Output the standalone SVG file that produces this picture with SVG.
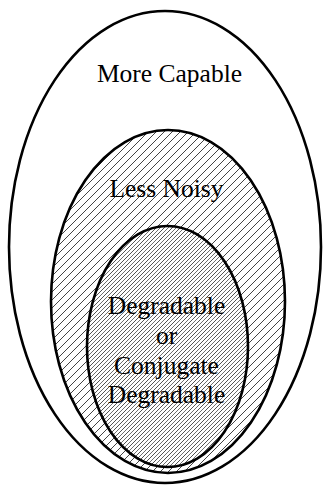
<svg xmlns="http://www.w3.org/2000/svg" width="328" height="489" viewBox="0 0 328 489">
  <style>
    .ring { stroke: #000; stroke-width: 2.6; }
    .lbl { font-family: "Liberation Serif", "Times New Roman", serif; font-size: 25.5px; fill: #000; text-anchor: middle; }
  </style>
  <defs>
    <pattern id="hatch" patternUnits="userSpaceOnUse" width="8" height="8">
      <path d="M-2,2 l4,-4 M0,8 l8,-8 M6,10 l4,-4" stroke="#444" stroke-width="1"/>
    </pattern>
    <pattern id="hatchDense" patternUnits="userSpaceOnUse" width="4" height="4">
      <path d="M-1,1 l2,-2 M0,4 l4,-4 M3,5 l2,-2" stroke="#555" stroke-width="0.85"/>
    </pattern>
  </defs>
  <rect width="328" height="489" fill="#fff"/>
  <g id="more-capable">
    <ellipse class="ring" cx="165" cy="247" rx="156" ry="236" fill="#fff"/>
    <text class="lbl" x="169.5" y="82">More Capable</text>
  </g>
  <g id="less-noisy">
    <ellipse class="ring" cx="168" cy="301.5" rx="117" ry="171.5" fill="url(#hatch)"/>
    <text class="lbl" x="166.5" y="197">Less Noisy</text>
  </g>
  <g id="degradable">
    <ellipse class="ring" cx="167.5" cy="346.5" rx="80.5" ry="120.5" fill="url(#hatchDense)"/>
    <text class="lbl" x="166.5" y="314">Degradable</text>
    <text class="lbl" x="166.5" y="344">or</text>
    <text class="lbl" x="166.5" y="374">Conjugate</text>
    <text class="lbl" x="166.5" y="403">Degradable</text>
  </g>
  <g id="connectors"/>
</svg>
